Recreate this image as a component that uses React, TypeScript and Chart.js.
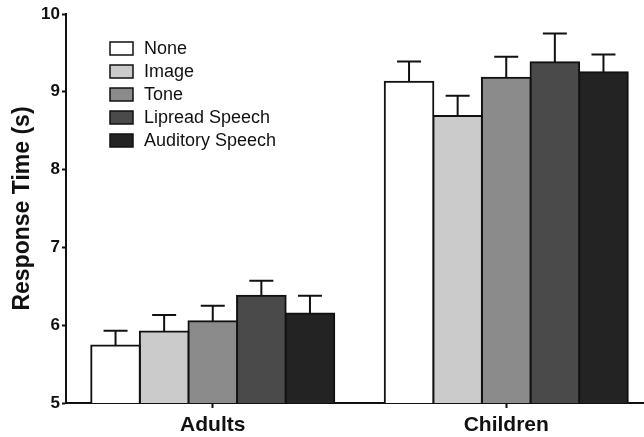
import React, { useEffect, useRef } from "react";
import { Chart, registerables } from "chart.js";

Chart.register(...registerables);

const categories = ["Adults", "Children"];
const seriesLabels = ["None", "Image", "Tone", "Lipread Speech", "Auditory Speech"];
const seriesColors = ["#ffffff", "#cbcbcb", "#8b8b8b", "#4a4a4a", "#232323"];
const noneValues = [5.74, 9.13];
const imageValues = [5.92, 8.69];
const toneValues = [6.05, 9.18];
const lipreadValues = [6.38, 9.38];
const auditoryValues = [6.15, 9.25];
const noneErr = [0.19, 0.26];
const imageErr = [0.21, 0.26];
const toneErr = [0.2, 0.27];
const lipreadErr = [0.19, 0.37];
const auditoryErr = [0.23, 0.23];
const yTicks = [5, 6, 7, 8, 9, 10];

const allValues = [noneValues, imageValues, toneValues, lipreadValues, auditoryValues];
const allErrs = [noneErr, imageErr, toneErr, lipreadErr, auditoryErr];

const FONT = "'Liberation Sans', Arial, Helvetica, sans-serif";

const errorBarPlugin = {
  id: "errorBars",
  afterDatasetsDraw(chart: any) {
    const ctx = chart.ctx;
    const yScale = chart.scales.y;
    ctx.save();
    ctx.strokeStyle = "#111";
    ctx.lineWidth = 2;
    chart.data.datasets.forEach((ds: any, di: number) => {
      const meta = chart.getDatasetMeta(di);
      meta.data.forEach((el: any, i: number) => {
        const v = ds.data[i];
        const e = allErrs[di][i];
        const yTop = yScale.getPixelForValue(v + e);
        const yBar = yScale.getPixelForValue(v);
        ctx.beginPath();
        ctx.moveTo(el.x, yBar);
        ctx.lineTo(el.x, yTop);
        ctx.moveTo(el.x - 12, yTop);
        ctx.lineTo(el.x + 12, yTop);
        ctx.stroke();
      });
    });
    ctx.restore();
  },
};

const legendPlugin = {
  id: "insideLegend",
  afterDraw(chart: any) {
    const ctx = chart.ctx;
    ctx.save();
    chart.data.datasets.forEach((ds: any, i: number) => {
      const top = 42 + i * 23;
      ctx.fillStyle = ds.backgroundColor;
      ctx.fillRect(110, top, 23, 13);
      ctx.strokeStyle = "#111";
      ctx.lineWidth = 1.5;
      ctx.strokeRect(110, top, 23, 13);
      ctx.fillStyle = "#111";
      ctx.font = `18px ${FONT}`;
      ctx.textBaseline = "middle";
      ctx.textAlign = "left";
      ctx.fillText(ds.label, 144, top + 7);
    });
    ctx.restore();
  },
};

export default function App() {
  const ref = useRef<HTMLCanvasElement>(null);
  useEffect(() => {
    const chart = new Chart(ref.current!, {
      type: "bar",
      data: {
        labels: categories,
        datasets: seriesLabels.map((label, i) => ({
          label,
          data: allValues[i],
          backgroundColor: seriesColors[i],
          borderColor: "#111",
          borderWidth: 2,
          inflateAmount: 1,
          barPercentage: 1,
          categoryPercentage: 0.828,
        })),
      },
      options: {
        animation: false,
        responsive: false,
        maintainAspectRatio: false,
        layout: { padding: { top: 14, right: 0, left: 0, bottom: 0 } },
        plugins: {
          legend: { display: false },
          tooltip: { enabled: false },
        },
        scales: {
          x: {
            grid: {
              display: true,
              drawOnChartArea: false,
              offset: false,
              tickLength: 5,
              tickColor: "#111",
              tickWidth: 2,
            },
            border: { color: "#111", width: 2 },
            ticks: {
              color: "#111",
              padding: 5,
              font: { family: FONT, size: 21, weight: "bold" },
            },
            afterFit(scale: any) {
              scale.height = 34;
            },
          },
          y: {
            min: 5,
            max: 10,
            afterBuildTicks(scale: any) {
              scale.ticks = yTicks.map((v) => ({ value: v }));
            },
            grid: {
              drawOnChartArea: false,
              tickLength: 4,
              tickColor: "#111",
              tickWidth: 2,
            },
            border: { color: "#111", width: 2 },
            ticks: {
              color: "#111",
              padding: 2,
              font: { family: FONT, size: 17, weight: "bold" },
            },
            title: {
              display: true,
              text: "Response Time (s)",
              color: "#111",
              padding: { top: 9, bottom: 0 },
              font: { family: FONT, size: 23, weight: "bold" },
            },
            afterFit(scale: any) {
              scale.width = 66;
            },
          },
        },
      },
      plugins: [errorBarPlugin, legendPlugin],
    });
    return () => chart.destroy();
  }, []);
  return (
    <div
      style={{
        position: "fixed",
        left: 0,
        top: 0,
        width: 644,
        height: 437,
        overflow: "hidden",
        background: "#fff",
      }}
    >
      <canvas ref={ref} width={653} height={437} style={{ display: "block" }} />
    </div>
  );
}
